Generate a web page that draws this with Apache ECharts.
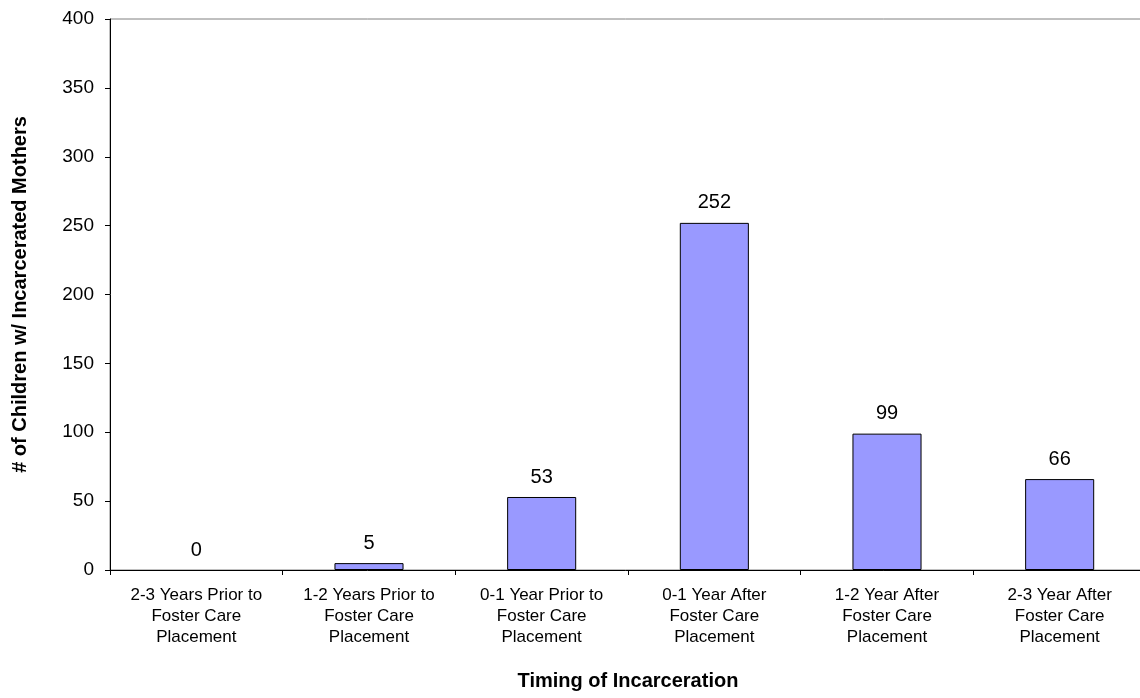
<!DOCTYPE html>
<html lang="en" style="height: 100%">
<head>
  <meta charset="utf-8" />
</head>
<body style="height: 100%; margin: 0; background: #fff">
  <div id="container" style="width: 1140px; height: 698px"></div>
  <script src="https://cdn.jsdelivr.net/npm/echarts@6/dist/echarts.min.js"></script>
  <script>
    var categories = [
      "2-3 Years Prior to\nFoster Care\nPlacement",
      "1-2 Years Prior to\nFoster Care\nPlacement",
      "0-1 Year Prior to\nFoster Care\nPlacement",
      "0-1 Year After\nFoster Care\nPlacement",
      "1-2 Year After\nFoster Care\nPlacement",
      "2-3 Year After\nFoster Care\nPlacement"
    ];
    var children = [0, 5, 53, 252, 99, 66];

    var font = "Liberation Sans, Arial, sans-serif";
    var chart = echarts.init(document.getElementById("container"), null, { renderer: "canvas" });

    // a zero bar draws nothing in the original, only its label
    var barData = children.map(function (v) {
      return v === 0 ? { value: v, itemStyle: { borderWidth: 0 } } : v;
    });

    var option = {
      animation: false,
      textStyle: { fontFamily: font, color: "#000" },
      grid: {
        left: 110,
        top: 19,
        right: -6,
        bottom: 128,
        show: true,
        borderColor: "#808080",
        borderWidth: 1,
        containLabel: false,
        outerBoundsMode: "none"
      },
      xAxis: {
        type: "category",
        data: categories,
        name: "Timing of Incarceration",
        nameLocation: "middle",
        nameGap: 101,
        nameTextStyle: { fontFamily: font, fontSize: 20, fontWeight: "bold", color: "#000" },
        axisLine: { lineStyle: { color: "#000", width: 1 } },
        axisTick: { show: true, length: 5, lineStyle: { color: "#000" } },
        axisLabel: {
          interval: 0,
          margin: 15,
          fontFamily: font,
          fontSize: 17,
          lineHeight: 21,
          color: "#000"
        },
        splitLine: { show: false }
      },
      yAxis: {
        type: "value",
        min: 0,
        max: 400,
        interval: 50,
        name: "# of Children w/ Incarcerated Mothers",
        nameLocation: "middle",
        nameGap: 80,
        nameTextStyle: { fontFamily: font, fontSize: 20, fontWeight: "bold", color: "#000" },
        axisLine: { show: true, lineStyle: { color: "#000", width: 1 } },
        axisTick: { show: true, length: 5, lineStyle: { color: "#000" } },
        axisLabel: { margin: 16, fontFamily: font, fontSize: 19, color: "#000" },
        splitLine: { show: false }
      },
      series: [
        {
          type: "bar",
          data: barData,
          barWidth: "40%",
          itemStyle: { color: "#9999FF", borderColor: "#000", borderWidth: 1 },
          label: {
            show: true,
            position: "top",
            distance: 10,
            fontFamily: font,
            fontSize: 20,
            color: "#000"
          }
        }
      ]
    };

    chart.setOption(option);
    window.addEventListener("resize", chart.resize);
  </script>
</body>
</html>
